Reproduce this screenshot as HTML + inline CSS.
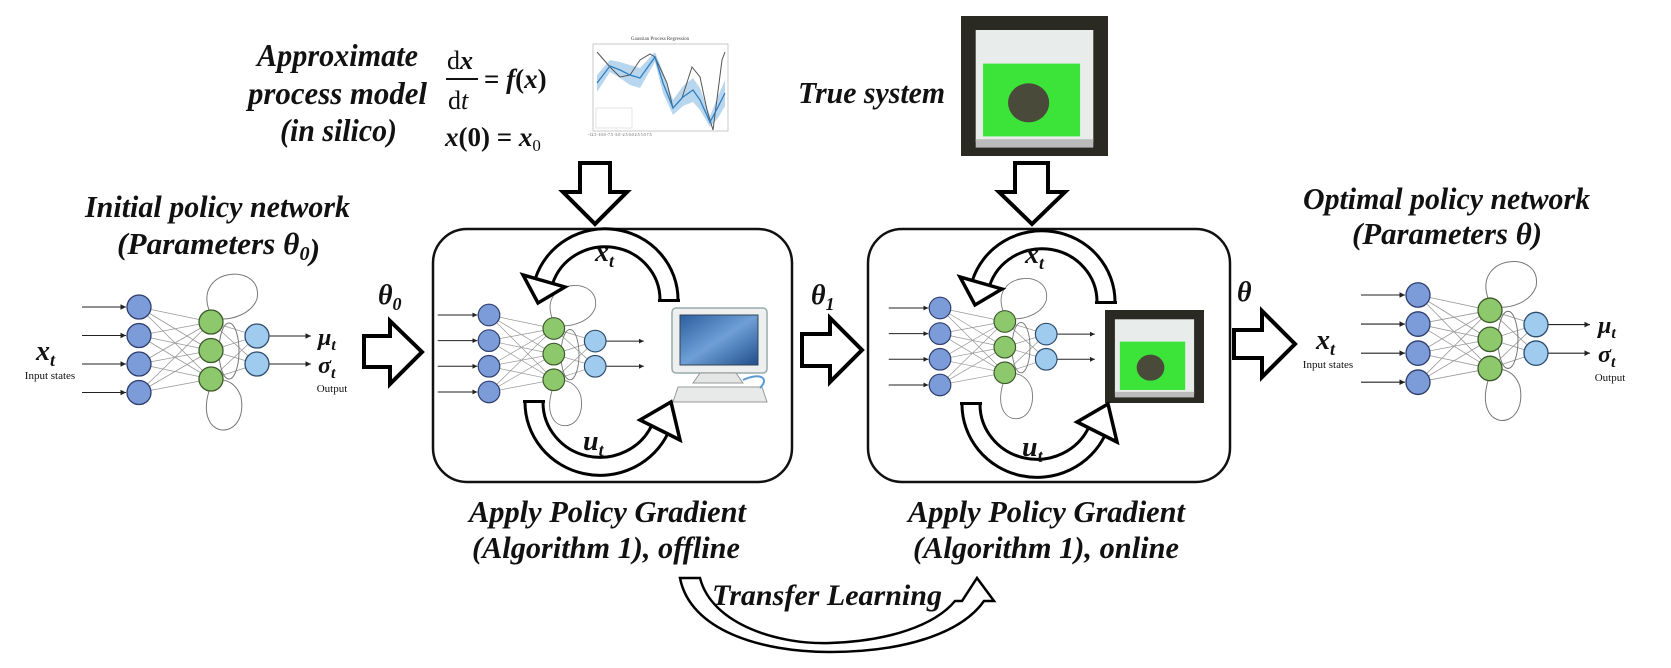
<!DOCTYPE html>
<html><head><meta charset="utf-8"><style>
html,body{margin:0;padding:0;background:#fff;}
svg{display:block;}
text{font-family:"Liberation Serif",serif;font-weight:bold;font-style:italic;fill:#111;}
.sm{font-style:normal;font-weight:normal;font-size:11px;}
</style></head><body>
<svg width="1671" height="668" viewBox="0 0 1671 668" xmlns="http://www.w3.org/2000/svg">
<defs>
<marker id="ah" markerWidth="6" markerHeight="6" refX="5" refY="3" orient="auto"><path d="M0,0.5 L5,3 L0,5.5z" fill="#222"/></marker>
<g id="net">
 <g stroke="#999" stroke-width="0.8" fill="none">
  <path d="M0,0L72,15M0,0L72,43.5M0,0L72,72M0,28.5L72,15M0,28.5L72,43.5M0,28.5L72,72M0,57L72,15M0,57L72,43.5M0,57L72,72M0,85.5L72,15M0,85.5L72,43.5M0,85.5L72,72"/>
  <path d="M72,15L118,29M72,15L118,57M72,43.5L118,29M72,43.5L118,57M72,72L118,29M72,72L118,57"/>
 </g>
 <g stroke="#777" stroke-width="1" fill="none">
  <path d="M70,3 C55,-40 125,-45 118,-8 C112,8 92,12 84,12"/>
  <ellipse cx="90" cy="44" rx="10" ry="28"/>
  <path d="M70,84 C55,135 110,135 102,90 C98,78 90,74 84,73"/>
 </g>
 <g stroke="#222" stroke-width="1.1">
  <line x1="-57" y1="0" x2="-13" y2="0" marker-end="url(#ah)"/>
  <line x1="-57" y1="28.5" x2="-13" y2="28.5" marker-end="url(#ah)"/>
  <line x1="-57" y1="57" x2="-13" y2="57" marker-end="url(#ah)"/>
  <line x1="-57" y1="85.5" x2="-13" y2="85.5" marker-end="url(#ah)"/>
  <line x1="130" y1="29" x2="172" y2="29" marker-end="url(#ah)"/>
  <line x1="130" y1="57" x2="172" y2="57" marker-end="url(#ah)"/>
 </g>
 <g stroke="#2e3d6b" stroke-width="1.3" fill="#7b9bd9">
  <circle cx="0" cy="0" r="12"/><circle cx="0" cy="28.5" r="12"/><circle cx="0" cy="57" r="12"/><circle cx="0" cy="85.5" r="12"/>
 </g>
 <g stroke="#3b5a2b" stroke-width="1.3" fill="#8ec86c">
  <circle cx="72" cy="15" r="12"/><circle cx="72" cy="43.5" r="12"/><circle cx="72" cy="72" r="12"/>
 </g>
 <g stroke="#2e4d6b" stroke-width="1.3" fill="#9fcbef">
  <circle cx="118" cy="29" r="12"/><circle cx="118" cy="57" r="12"/>
 </g>
</g>
<g id="photo">
 <rect x="0" y="0" width="100" height="100" fill="#2b2a22"/>
 <rect x="10" y="10" width="80" height="80" fill="#e8ecea"/>
 <rect x="15" y="34" width="66" height="52" fill="#3ce43a"/>
 <circle cx="46" cy="62" r="14" fill="#4a4a3a"/>
 <rect x="10" y="88" width="80" height="6" fill="#bbb"/>
</g>
<linearGradient id="scr" x1="0" y1="0" x2="1" y2="1"><stop offset="0" stop-color="#2d5e9e"/><stop offset="0.5" stop-color="#6f9fd6"/><stop offset="1" stop-color="#1f4e8a"/></linearGradient>
</defs>

<!-- Top-left text -->
<text x="257" y="66" font-size="32" textLength="161" lengthAdjust="spacingAndGlyphs">Approximate</text>
<text x="248" y="104" font-size="32" textLength="179" lengthAdjust="spacingAndGlyphs">process model</text>
<text x="280" y="141" font-size="32" textLength="117" lengthAdjust="spacingAndGlyphs">(in silico)</text>
<!-- equation -->
<text x="447" y="69" font-size="26" style="font-style:normal;font-weight:normal">d<tspan style="font-weight:bold;font-style:italic">x</tspan></text>
<line x1="446" y1="79" x2="478" y2="79" stroke="#111" stroke-width="2"/>
<text x="448" y="109" font-size="26" style="font-style:normal;font-weight:normal">d<tspan font-style="italic">t</tspan></text>
<text x="484" y="88" font-size="27" style="font-style:normal">= <tspan font-style="italic">f</tspan>(<tspan font-style="italic">x</tspan>)</text>
<text x="445" y="146" font-size="27" style="font-style:normal"><tspan font-style="italic">x</tspan>(0) = <tspan font-style="italic">x</tspan><tspan font-size="17" dy="5" style="font-weight:normal">0</tspan></text>
<!-- chart -->
<text x="660" y="40" class="sm" font-size="5" text-anchor="middle" style="font-size:5px;fill:#444">Gaussian Process Regression</text>
<rect x="593" y="44" width="135" height="87" fill="#fff" stroke="#bbb" stroke-width="0.8"/>
<path d="M597,75 L610,60 L620,62 L630,65 L640,68 L655,52 L663,72 L673,100 L683,86 L693,78 L700,88 L710,116 L718,96 L725,80 L725,106 L718,118 L710,127 L700,110 L693,102 L683,106 L673,115 L663,93 L655,62 L640,88 L630,85 L620,78 L610,72 L597,92z" fill="#b8d7ef"/>
<polyline points="597,52 610,67 620,77 630,75 640,60 650,54 655,57 667,83 673,108 682,98 692,67 700,77 707,110 713,130 722,60 725,52" fill="none" stroke="#555" stroke-width="1"/>
<polyline points="597,83 610,66 620,70 630,75 640,78 655,57 663,83 673,108 683,97 693,90 700,100 710,122 718,107 725,93" fill="none" stroke="#2f7fc0" stroke-width="1.3"/>
<rect x="596" y="108" width="36" height="20" fill="#fff" stroke="#ccc" stroke-width="0.5"/>
<text x="588" y="136" style="font-size:4px;font-weight:normal;font-style:normal;fill:#555">-12.5  -10.0  -7.5  -5.0  -2.5  0.0  2.5  5.0  7.5</text>

<!-- True system -->
<text x="798" y="103" font-size="31" textLength="147" lengthAdjust="spacingAndGlyphs">True system</text>
<use href="#photo" transform="translate(961,16) scale(1.47,1.4)"/>

<!-- Left network -->
<text x="85" y="217" font-size="31" textLength="265" lengthAdjust="spacingAndGlyphs">Initial policy network</text>
<text x="117" y="254" font-size="31" textLength="203" lengthAdjust="spacingAndGlyphs">(Parameters θ<tspan font-size="20" dy="6">0</tspan>)</text>
<use href="#net" transform="translate(139,307)"/>
<text x="36" y="360" font-size="28">x<tspan font-size="18" dy="6">t</tspan></text>
<text x="50" y="379" class="sm" text-anchor="middle">Input states</text>
<text x="318" y="345" font-size="24">μ<tspan font-size="16" dy="5">t</tspan></text>
<text x="318" y="373" font-size="24">σ<tspan font-size="16" dy="5">t</tspan></text>
<text x="332" y="392" class="sm" text-anchor="middle">Output</text>
<text x="378" y="304" font-size="28">θ<tspan font-size="18" dy="6">0</tspan></text>
<polygon points="364,336 390,336 390,321 422,352 390,384 390,367 364,367" fill="#fff" stroke="#000" stroke-width="4" stroke-linejoin="miter"/>

<!-- Box 1 -->
<rect x="433" y="229" width="359" height="253" rx="34" fill="#fff" stroke="#111" stroke-width="2.5"/>
<polygon points="580,163 610,163 610,192 627,192 595,224 563,192 580,192" fill="#fff" stroke="#000" stroke-width="4"/>
<use href="#net" transform="translate(489,315) scale(0.9)"/>
<!-- computer -->
<rect x="672" y="308" width="95" height="65" rx="4" fill="#eef0f0" stroke="#9aa" stroke-width="1.5"/>
<rect x="680" y="315" width="78" height="50" fill="url(#scr)" stroke="#345" stroke-width="1"/>
<path d="M700,373 L736,373 L743,383 L693,383z" fill="#e4e6e6" stroke="#999"/>
<path d="M678,387 L762,387 L767,402 L673,402z" fill="#e8eaea" stroke="#999"/>
<path d="M743,380 C760,372 770,378 760,388" fill="none" stroke="#5b9bd5" stroke-width="2"/>
<!-- curved arrows box1 -->
<g fill="none">
 <path d="M669,300 A64,62 0 0 0 544,281" stroke="#000" stroke-width="21"/>
 <path d="M669,300 A64,62 0 0 0 544,281" stroke="#fff" stroke-width="15"/>
 <path d="M534,402 A66,64 0 0 0 660,429" stroke="#000" stroke-width="21"/>
 <path d="M534,402 A66,64 0 0 0 660,429" stroke="#fff" stroke-width="15"/>
</g>
<rect x="658" y="299" width="22" height="3" fill="#000"/>
<rect x="523" y="400" width="22" height="3" fill="#000"/>
<polygon points="565,287 523,275 538,303" fill="#fff" stroke="#000" stroke-width="3.5"/>
<polygon points="680,440 640,420 671,402" fill="#fff" stroke="#000" stroke-width="3.5"/>
<text x="595" y="261" font-size="28">x<tspan font-size="18" dy="6">t</tspan></text>
<text x="583" y="450" font-size="28">u<tspan font-size="18" dy="6">t</tspan></text>

<!-- θ1 arrow -->
<text x="811" y="304" font-size="28">θ<tspan font-size="18" dy="6">1</tspan></text>
<polygon points="802,334 830,334 830,318 862,350 830,382 830,366 802,366" fill="#fff" stroke="#000" stroke-width="4"/>

<!-- Box 2 -->
<rect x="868" y="229" width="362" height="253" rx="34" fill="#fff" stroke="#111" stroke-width="2.5"/>
<polygon points="1015,163 1048,163 1048,192 1065,192 1032,224 999,192 1015,192" fill="#fff" stroke="#000" stroke-width="4"/>
<use href="#net" transform="translate(940,308) scale(0.9)"/>
<use href="#photo" transform="translate(1105,310) scale(0.99,0.93)"/>
<g fill="none" transform="translate(437,2)">
 <path d="M669,300 A64,62 0 0 0 544,281" stroke="#000" stroke-width="21"/>
 <path d="M669,300 A64,62 0 0 0 544,281" stroke="#fff" stroke-width="15"/>
 <path d="M534,402 A66,64 0 0 0 660,429" stroke="#000" stroke-width="21"/>
 <path d="M534,402 A66,64 0 0 0 660,429" stroke="#fff" stroke-width="15"/>
 <rect x="658" y="299" width="22" height="3" fill="#000"/>
 <rect x="523" y="400" width="22" height="3" fill="#000"/>
 <polygon points="565,287 523,275 538,303" fill="#fff" stroke="#000" stroke-width="3.5"/>
 <polygon points="680,440 640,420 671,402" fill="#fff" stroke="#000" stroke-width="3.5"/>
</g>
<text x="1025" y="263" font-size="28">x<tspan font-size="18" dy="6">t</tspan></text>
<text x="1022" y="456" font-size="28">u<tspan font-size="18" dy="6">t</tspan></text>

<!-- θ arrow -->
<text x="1237" y="301" font-size="28">θ</text>
<polygon points="1234,330 1262,330 1262,311 1295,344 1262,377 1262,358 1234,358" fill="#fff" stroke="#000" stroke-width="4"/>

<!-- Right network -->
<text x="1303" y="209" font-size="31" textLength="287" lengthAdjust="spacingAndGlyphs">Optimal policy network</text>
<text x="1352" y="244" font-size="31" textLength="190" lengthAdjust="spacingAndGlyphs">(Parameters θ)</text>
<use href="#net" transform="translate(1418,295) scale(1,1.02)"/>
<text x="1316" y="349" font-size="28">x<tspan font-size="18" dy="6">t</tspan></text>
<text x="1328" y="368" class="sm" text-anchor="middle">Input states</text>
<text x="1598" y="333" font-size="24">μ<tspan font-size="16" dy="5">t</tspan></text>
<text x="1598" y="362" font-size="24">σ<tspan font-size="16" dy="5">t</tspan></text>
<text x="1610" y="381" class="sm" text-anchor="middle">Output</text>

<!-- bottom labels -->
<text x="469" y="522" font-size="31" textLength="277" lengthAdjust="spacingAndGlyphs">Apply Policy Gradient</text>
<text x="472" y="558" font-size="31" textLength="268" lengthAdjust="spacingAndGlyphs">(Algorithm 1), offline</text>
<text x="908" y="522" font-size="31" textLength="277" lengthAdjust="spacingAndGlyphs">Apply Policy Gradient</text>
<text x="913" y="558" font-size="31" textLength="266" lengthAdjust="spacingAndGlyphs">(Algorithm 1), online</text>

<!-- Transfer learning arc -->
<path d="M680,578 L700,578 C712,625 780,645 830,643 C890,641 935,625 955,601 L962,601 L977,578 L994,601 L984,601 C960,635 900,652 830,652 C760,652 690,630 680,578z" fill="#fff" stroke="#000" stroke-width="2.5" stroke-linejoin="miter"/>
<text x="712" y="605" font-size="30" textLength="230" lengthAdjust="spacingAndGlyphs">Transfer Learning</text>
</svg>
</body></html>
